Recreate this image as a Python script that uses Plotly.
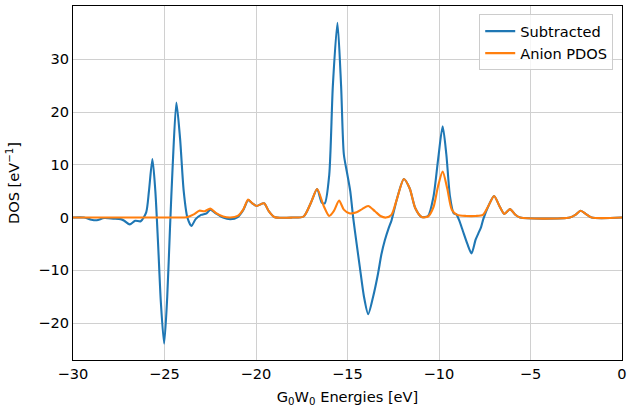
import plotly.graph_objects as go

# Anion PDOS (orange)
anion_x = [-30, -24.2, -23.8, -23.4, -23.1, -22.8, -22.5, -22.2, -21.8, -21.4, -21.0, -20.7,
           -20.43, -20.2, -19.97, -19.56, -19.3, -19.0, -18.0, -17.4, -17.0, -16.66, -16.3,
           -16.0, -15.75, -15.46, -15.2, -14.9, -14.5, -14.2, -13.87, -13.5, -13.2, -12.9,
           -12.6, -12.3, -11.92, -11.6, -11.3, -10.95, -10.6, -10.3, -10.05, -9.8, -9.55,
           -9.3, -9.0, -8.5, -8.0, -7.6, -7.3, -6.99, -6.7, -6.43, -6.12, -5.85, -5.57,
           -2.85, -2.55, -2.26, -1.95, -1.66, 0]
anion_y = [0, 0, 0.05, 0.6, 1.3, 1.2, 1.7, 0.9, 0.2, 0.0, 0.3, 1.5,
           3.4, 2.7, 2.2, 2.7, 1.2, 0.1, 0.0, 0.2, 2.8, 5.4, 2.2,
           0.3, 1.2, 3.2, 1.5, 0.8, 1.0, 1.6, 2.2, 1.2, 0.3, 0.0,
           0.5, 3.5, 7.3, 5.5, 1.8, 0.1, 0.2, 2.0, 6.0, 8.7, 5.5,
           1.5, 0.5, 0.3, 0.3, 0.5, 2.2, 4.1, 2.2, 0.7, 1.6, 0.6, 0.0,
           0.0, 0.5, 1.3, 0.6, 0.0, 0]

# Subtracted (blue)
sub_x = [-30, -29.4, -29.0, -28.7, -28.3, -27.8, -27.4, -27.2, -26.9, -26.6, -26.3, -26.0,
         -25.85, -25.66, -25.5, -25.35, -25.2, -25.02, -24.85, -24.7, -24.55, -24.35, -24.15,
         -23.95, -23.75, -23.53, -23.3, -23.0, -22.7, -22.5, -22.2, -21.8, -21.4, -21.0,
         -20.7, -20.43, -20.2, -19.97, -19.56, -19.3, -19.0, -18.0, -17.4, -17.0, -16.66,
         -16.4, -16.24, -16.0, -15.8, -15.55, -15.35, -15.2, -15.02, -14.85, -14.69, -14.5,
         -14.33, -14.1, -13.87, -13.6, -13.33, -13.15, -12.96, -12.75, -12.59, -12.3, -11.92,
         -11.6, -11.3, -10.95, -10.6, -10.3, -10.05, -9.8, -9.6, -9.4, -9.2, -9.05, -8.9,
         -8.7, -8.45, -8.22, -8.0, -7.85, -7.7, -7.58, -7.3, -6.99, -6.7, -6.43, -6.12,
         -5.85, -5.57, -2.85, -2.55, -2.26, -1.95, -1.66, 0]
sub_y = [0, 0.0, -0.4, -0.5, -0.1, -0.2, -0.3, -0.6, -1.3, -0.6, -0.7, 1.0,
         5.0, 11.1, 5.0, -5.0, -16.0, -23.9, -15.0, -2.0, 10.0, 21.8, 15.0,
         5.0, 0.0, -1.6, -0.3, 0.5, 0.8, 1.5, 0.8, 0.0, -0.3, 0.1,
         1.4, 3.3, 2.7, 2.2, 2.7, 1.2, 0.1, 0.0, 0.2, 2.8, 5.4,
         2.8, 2.7, 8.0, 25.0, 36.9, 25.0, 12.0, 8.4, 5.0, 0.0, -5.0,
         -9.3, -15.0, -18.3, -15.0, -10.6, -7.0, -4.3, -2.0, -0.5, 3.5, 7.3,
         5.5, 1.8, 0.1, 0.3, 4.0, 11.0, 17.3, 12.0, 4.0, 0.8, 0.6, -0.5,
         -2.5, -5.0, -6.8, -4.2, -3.0, -1.8, -0.3, 2.2, 4.1, 2.2, 0.7, 1.6,
         0.6, 0.0, 0.0, 0.5, 1.3, 0.6, 0.0, 0]

x_ticks = [-30, -25, -20, -15, -10, -5, 0]
y_ticks = [-20, -10, 0, 10, 20, 30]

fig = go.Figure()
fig.add_trace(go.Scatter(x=sub_x, y=sub_y, mode="lines", name="Subtracted",
                         line=dict(color="#1f77b4", width=2.1, shape="spline", smoothing=0.7)))
fig.add_trace(go.Scatter(x=anion_x, y=anion_y, mode="lines", name="Anion PDOS",
                         line=dict(color="#ff7f0e", width=2.1, shape="spline", smoothing=0.7)))

font = "DejaVu Sans"
fs = 14.6
fig.update_layout(
    width=628, height=407,
    margin=dict(l=73, r=6, t=6, b=47, autoexpand=False),
    paper_bgcolor="white", plot_bgcolor="white",
    font=dict(family=font, size=fs, color="black"),
    showlegend=True,
    legend=dict(x=0.984, y=0.977, xanchor="right", yanchor="top",
                bgcolor="rgba(255,255,255,0.8)", bordercolor="#cccccc", borderwidth=1,
                font=dict(size=fs), tracegroupgap=0, itemwidth=30),
)
fig.update_xaxes(range=[-30, 0], tickvals=x_ticks, showgrid=True, gridcolor="#d0d0d0",
                 gridwidth=1, zeroline=False, showline=True, linecolor="black", linewidth=1,
                 mirror=True, ticks="", automargin=False, tickfont=dict(size=fs),
                 title=dict(text="G<sub>0</sub>W<sub>0</sub> Energies [eV]", font=dict(size=fs)))
fig.update_yaxes(range=[-27.0, 40.1], tickvals=y_ticks, showgrid=True, gridcolor="#d0d0d0",
                 gridwidth=1, zeroline=False, showline=True, linecolor="black", linewidth=1,
                 mirror=True, ticks="", automargin=False, tickfont=dict(size=fs),
                 title=dict(text="DOS [eV<sup>−1</sup>]", font=dict(size=fs)))

fig.write_html("out.html", config={"displayModeBar": False},
               post_script="document.body.style.margin='0';document.body.style.padding='0';document.body.style.overflow='hidden';")
